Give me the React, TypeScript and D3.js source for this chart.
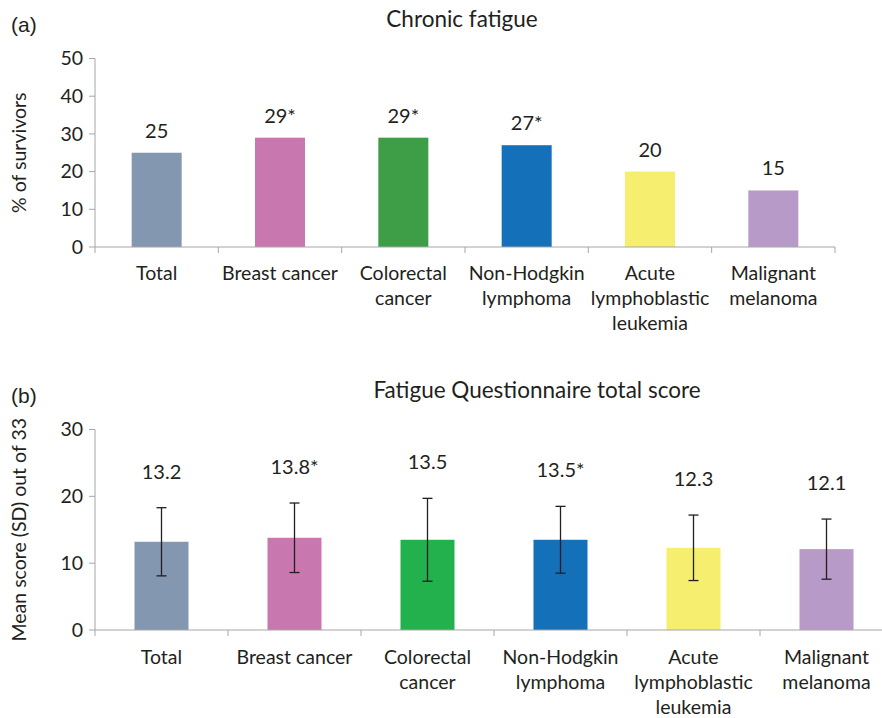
import React from "react";
import * as d3 from "d3";

const categories = [
  ["Total"],
  ["Breast cancer"],
  ["Colorectal", "cancer"],
  ["Non-Hodgkin", "lymphoma"],
  ["Acute", "lymphoblastic", "leukemia"],
  ["Malignant", "melanoma"],
];
const fatiguePct = [25, 29, 29, 27, 20, 15];
const fatigueLabels = ["25", "29*", "29*", "27*", "20", "15"];
const fqMean = [13.2, 13.8, 13.5, 13.5, 12.3, 12.1];
const fqSD = [5.1, 5.2, 6.2, 5.0, 4.9, 4.5];
const fqLabels = ["13.2", "13.8*", "13.5", "13.5*", "12.3", "12.1"];
const colorsA = ["#8497B0", "#C878AE", "#3E9E48", "#1570BA", "#F5EE6E", "#B79AC8"];
const colorsB = ["#8497B0", "#C878AE", "#22B14C", "#1570BA", "#F5EE6E", "#B79AC8"];
const ticksA = [0, 10, 20, 30, 40, 50];
const ticksB = [0, 10, 20, 30];

const FONT = "Lato, 'Open Sans', sans-serif";
const TXT = "#231F20";
const AX = "#A6A6A6";

function Panel(props: any) {
  const { top, bottom, left, right, domainMax, ticks, values, labels, colors, sd, barW, labelOffset, ytitle, title, titleX, titleY, tag, tagY, catY, yTitleX } = props;
  const x = d3.scaleBand().domain(categories.map((_, i) => String(i))).range([left, right]).paddingInner(0).paddingOuter(0);
  const y = d3.scaleLinear().domain([0, domainMax]).range([bottom, top]);
  const bw = x.bandwidth();
  return (
    <g fontFamily={FONT} fill={TXT}>
      <text x={11} y={tagY} fontSize={21} fontFamily="'Liberation Sans', Arial, sans-serif">{tag}</text>
      <text x={titleX} y={titleY} fontSize={22.5} textAnchor="middle">{title}</text>
      <text transform={`translate(${yTitleX},${(top + bottom) / 2}) rotate(-90)`} fontSize={19.5} textAnchor="middle">{ytitle}</text>
      {ticks.map((t: number) => (
        <g key={t}>
          <line x1={left - 6} x2={left} y1={y(t)} y2={y(t)} stroke={AX} />
          <text x={left - 12} y={y(t)} dy="0.35em" fontSize={19.5} textAnchor="end">{t}</text>
        </g>
      ))}
      <line x1={left} x2={left} y1={y(domainMax)} y2={bottom} stroke={AX} />
      {values.map((v: number, i: number) => {
        const cx = (x(String(i)) as number) + bw / 2;
        const hi = sd ? v + sd[i] : v;
        const lo = sd ? v - sd[i] : v;
        return (
          <g key={i}>
            <rect x={cx - barW / 2} y={y(v)} width={barW} height={bottom - y(v)} fill={colors[i]} />
            {sd && (
              <g stroke="#231F20" strokeWidth={1.3}>
                <line x1={cx} x2={cx} y1={y(hi)} y2={y(lo)} />
                <line x1={cx - 5} x2={cx + 5} y1={y(hi)} y2={y(hi)} />
                <line x1={cx - 5} x2={cx + 5} y1={y(lo)} y2={y(lo)} />
              </g>
            )}
            <text x={cx} y={y(hi) - labelOffset} dy="0.35em" fontSize={20} textAnchor="middle">{labels[i]}</text>
            {categories[i].map((ln, j) => (
              <text key={j} x={cx} y={catY + j * 25} dy="0.35em" fontSize={19.5} textAnchor="middle">{ln}</text>
            ))}
          </g>
        );
      })}
      <line x1={left} x2={Math.min(right, 882)} y1={bottom} y2={bottom} stroke={AX} />
      {d3.range(categories.length + 1).map((i) => {
        const xx = left + i * bw;
        return <line key={i} x1={xx} x2={xx} y1={bottom} y2={bottom + 6} stroke={AX} />;
      })}
    </g>
  );
}

export default function App() {
  return (
    <svg width={882} height={718} style={{ display: "block", position: "absolute", left: 0, top: 0, background: "#fff" }}>
      <Panel top={58.5} bottom={247} left={95} right={835} domainMax={50} ticks={ticksA}
        values={fatiguePct} labels={fatigueLabels} colors={colorsA} barW={50} labelOffset={22}
        ytitle="% of survivors" title="Chronic fatigue" titleX={462} titleY={27} tag="(a)" tagY={32} catY={273} yTitleX={26} />
      <Panel top={429.5} bottom={630} left={95} right={893} domainMax={30} ticks={ticksB}
        values={fqMean} sd={fqSD} labels={fqLabels} colors={colorsB} barW={54} labelOffset={36}
        ytitle="Mean score (SD) out of 33" title="Fatigue Questionnaire total score" titleX={537} titleY={398} tag="(b)" tagY={403} catY={657} yTitleX={26} />
    </svg>
  );
}
